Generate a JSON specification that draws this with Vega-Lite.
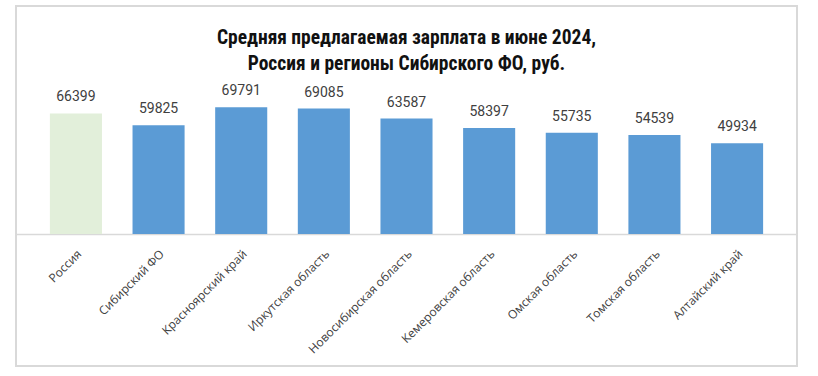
{
  "$schema": "https://vega.github.io/schema/vega-lite/v6.json",
  "width": 781,
  "height": 360,
  "autosize": {"type": "none"},
  "padding": {"left": 16, "top": 6, "right": 21, "bottom": 10},
  "background": "white",
  "title": {
    "text": ["Средняя предлагаемая зарплата в июне 2024,", "Россия и регионы Сибирского ФО, руб."],
    "font": "Liberation Sans Narrow, Roboto Condensed, Roboto",
    "fontSize": 19.5,
    "fontWeight": "bold",
    "color": "#111111",
    "anchor": "middle",
    "lineHeight": 26,
    "offset": -83,
    "baseline": "alphabetic"
  },
  "data": {
    "values": [
      {"region": "Россия", "salary": 66399, "group": "Россия"},
      {"region": "Сибирский ФО", "salary": 59825, "group": "Регион"},
      {"region": "Красноярский край", "salary": 69791, "group": "Регион"},
      {"region": "Иркутская область", "salary": 69085, "group": "Регион"},
      {"region": "Новосибирская область", "salary": 63587, "group": "Регион"},
      {"region": "Кемеровская область", "salary": 58397, "group": "Регион"},
      {"region": "Омская область", "salary": 55735, "group": "Регион"},
      {"region": "Томская область", "salary": 54539, "group": "Регион"},
      {"region": "Алтайский край", "salary": 49934, "group": "Регион"}
    ]
  },
  "encoding": {
    "x": {
      "field": "region",
      "type": "nominal",
      "sort": null,
      "scale": {"paddingInner": 0.37, "paddingOuter": 0.41},
      "axis": {
        "title": null,
        "orient": "bottom",
        "offset": -132,
        "labelAngle": -45,
        "ticks": false,
        "domainColor": "#d9d9d9",
        "domainWidth": 1.5,
        "labelFont": "Open Sans",
        "labelFontSize": 12,
        "labelColor": "#404040",
        "labelPadding": 14,
        "labelOverlap": false
      }
    }
  },
  "layer": [
    {
      "mark": {"type": "bar"},
      "encoding": {
        "y": {
          "field": "salary",
          "type": "quantitative",
          "scale": {"domain": [-72690, 125550], "nice": false, "zero": false},
          "axis": null
        },
        "color": {
          "field": "group",
          "type": "nominal",
          "scale": {"domain": ["Россия", "Регион"], "range": ["#e2efda", "#5b9bd5"]},
          "legend": null
        }
      }
    },
    {
      "mark": {"type": "text", "dy": -12, "baseline": "alphabetic", "font": "Roboto", "fontSize": 14, "color": "#404040"},
      "encoding": {
        "y": {"field": "salary", "type": "quantitative"},
        "text": {"field": "salary", "type": "quantitative", "format": "d"}
      }
    }
  ],
  "config": {"view": {"stroke": "#d9d9d9", "strokeWidth": 2}}
}
